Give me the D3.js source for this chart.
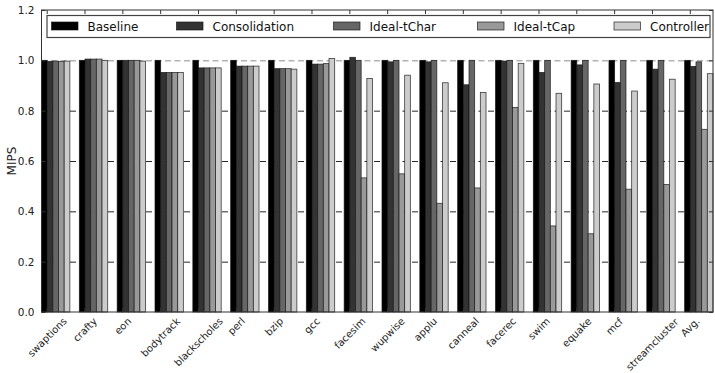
<!DOCTYPE html>
<html>
<head>
<meta charset="utf-8">
<script src="https://cdn.jsdelivr.net/npm/d3@7"></script>
<style>
  html, body { margin: 0; padding: 0; background: #fff; }
  svg { display: block; font-family: "DejaVu Sans", sans-serif; }
</style>
</head>
<body>
<svg id="chart" width="715" height="373"></svg>
<script>
const categories = ["swaptions","crafty","eon","bodytrack","blackscholes","perl","bzip","gcc","facesim","wupwise","applu","canneal","facerec","swim","equake","mcf","streamcluster","Avg."];
const seriesNames = ["Baseline","Consolidation","Ideal-tChar","Ideal-tCap","Controller"];
const baseline      = [1.0, 1.0, 1.0, 1.0, 1.0, 1.0, 1.0, 1.0, 1.0, 1.0, 1.0, 1.0, 1.0, 1.0, 1.0, 1.0, 1.0, 1.0];
const consolidation = [0.996, 1.005, 1.0, 0.952, 0.970, 0.977, 0.967, 0.985, 1.012, 0.994, 0.994, 0.903, 0.997, 0.952, 0.982, 0.912, 0.965, 0.976];
const idealTChar    = [0.997, 1.005, 1.0, 0.952, 0.970, 0.977, 0.967, 0.985, 1.0, 1.0, 1.0, 1.0, 1.0, 1.0, 1.0, 1.0, 1.0, 0.994];
const idealTCap     = [0.995, 1.005, 1.0, 0.952, 0.970, 0.977, 0.967, 0.987, 0.533, 0.549, 0.432, 0.493, 0.813, 0.342, 0.311, 0.488, 0.507, 0.726];
const controller    = [0.997, 1.0, 0.997, 0.952, 0.970, 0.977, 0.965, 1.007, 0.928, 0.941, 0.911, 0.872, 0.988, 0.869, 0.906, 0.878, 0.925, 0.947];
const yTicks = [0.0, 0.2, 0.4, 0.6, 0.8, 1.0, 1.2];
const yLabel = "MIPS";

const series = [baseline, consolidation, idealTChar, idealTCap, controller];
const fills = ["#000000", "#333333", "#666666", "#999999", "#cccccc"];

const svg = d3.select("#chart");
const L = 41.5, R = 713, T = 10, B = 312;
const barW = 0.15;
const nCat = categories.length;

const x = d3.scaleLinear().domain([0, (nCat - 1) + barW * series.length]).range([L, R]);
const y = d3.scaleLinear().domain([0, 1.2]).range([B, T]);

// grid
const grid = svg.append("g");
grid.selectAll("line").data(yTicks.filter(v => v > 0 && v < 1.2)).enter().append("line")
  .attr("x1", L).attr("x2", R)
  .attr("y1", d => y(d) + 0.5).attr("y2", d => y(d) + 0.5)
  .attr("stroke", "#000").attr("stroke-width", 1).attr("stroke-dasharray", "6,3.5")
  .attr("stroke-opacity", d => d === 1.0 ? 0.45 : 0.85);

// bars
const rows = [];
series.forEach((vals, si) => vals.forEach((v, ci) => rows.push({si, ci, v})));
svg.append("g").selectAll("rect").data(rows).enter().append("rect")
  .attr("x", d => x(d.ci + d.si * barW))
  .attr("width", d => x(barW) - x(0))
  .attr("y", d => y(d.v))
  .attr("height", d => y(0) - y(d.v))
  .attr("fill", d => fills[d.si])
  .attr("stroke", "#111").attr("stroke-opacity", 0.8).attr("stroke-width", 0.8);

// axes frame
const frame = svg.append("g");
frame.append("rect").attr("x", L).attr("y", T).attr("width", R - L).attr("height", B - T)
  .attr("fill", "none").attr("stroke", "#333").attr("stroke-width", 1);

// y axis
const yAxis = d3.axisLeft(y).tickValues(yTicks).tickFormat(d3.format(".1f")).tickSizeInner(-4).tickSizeOuter(0).tickPadding(7);
const yg = svg.append("g").attr("transform", `translate(${L},0)`).call(yAxis);
yg.select(".domain").remove();
yg.selectAll("line").attr("stroke", "#333");
yg.selectAll("text").attr("font-size", 10.5).attr("fill", "#222").attr("font-family", "DejaVu Sans");
const yAxisR = d3.axisRight(y).tickValues(yTicks).tickFormat("").tickSizeInner(-4).tickSizeOuter(0);
const ygr = svg.append("g").attr("transform", `translate(${R},0)`).call(yAxisR);
ygr.select(".domain").remove();
ygr.selectAll("line").attr("stroke", "#333");

// x ticks (top and bottom, inward)
const tickPos = categories.map((c, i) => i + barW);
const xt = svg.append("g");
xt.selectAll("line.top").data(tickPos).enter().append("line")
  .attr("x1", d => x(d)).attr("x2", d => x(d)).attr("y1", T).attr("y2", T + 4)
  .attr("stroke", "#333");
xt.selectAll("line.bot").data(tickPos).enter().append("line")
  .attr("x1", d => x(d)).attr("x2", d => x(d)).attr("y1", B).attr("y2", B - 4)
  .attr("stroke", "#333");

// x labels rotated 45, bbox centered on tick
const xl = svg.append("g");
categories.forEach((c, i) => {
  const tx = x(tickPos[i]);
  const t = xl.append("text").text(c)
    .attr("font-size", 10).attr("fill", "#222").attr("font-family", "DejaVu Sans")
    .attr("text-anchor", "end")
    .attr("transform", `translate(${tx},${B + 10}) rotate(-45)`);
  const bb = t.node().getBoundingClientRect();
  const cx = (bb.left + bb.right) / 2;
  const dx = tx - cx;
  const dy = (B + 3.5) - bb.top;
  t.attr("transform", `translate(${tx + dx},${B + 10 + dy}) rotate(-45)`);
});

// y label
svg.append("text").text(yLabel)
  .attr("transform", `translate(16,${(T + B) / 2}) rotate(-90)`)
  .attr("text-anchor", "middle").attr("font-size", 12).attr("fill", "#222")
  .attr("font-family", "DejaVu Sans");

// legend
const lg = svg.append("g");
lg.append("rect").attr("x", 47).attr("y", 15.5).attr("width", 663).attr("height", 22)
  .attr("fill", "#fff").attr("stroke", "#444").attr("stroke-width", 1.2);
const legX = [51.5, 176.5, 333.5, 477.5, 614];
seriesNames.forEach((n, i) => {
  lg.append("rect").attr("x", legX[i]).attr("y", 22).attr("width", 26.5).attr("height", 8)
    .attr("fill", fills[i]).attr("stroke", "#111").attr("stroke-opacity", 0.8).attr("stroke-width", 0.8);
  lg.append("text").text(n).attr("x", legX[i] + 36).attr("y", 30.5)
    .attr("font-size", 12).attr("fill", "#111").attr("font-family", "DejaVu Sans");
});
</script>
</body>
</html>
